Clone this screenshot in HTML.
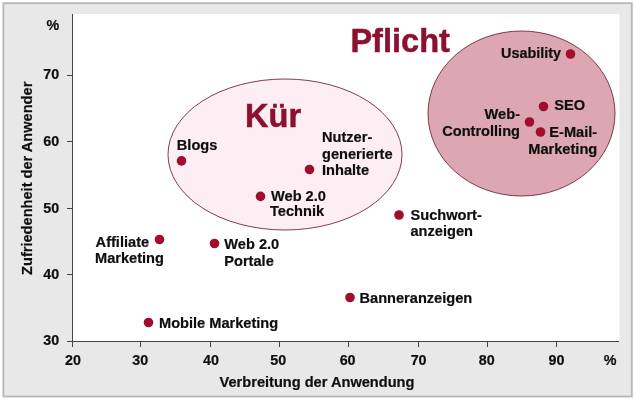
<!DOCTYPE html>
<html>
<head>
<meta charset="utf-8">
<title>Chart</title>
<style>
html,body{margin:0;padding:0;background:#fff;}
body{width:635px;height:400px;overflow:hidden;position:relative;font-family:"Liberation Sans",sans-serif;}
svg{position:absolute;left:0;top:0;display:block;will-change:transform;}
text{font-family:"Liberation Sans",sans-serif;font-weight:bold;fill:#0e0e0e;stroke:#0e0e0e;stroke-width:0.2px;}
.l{font-size:14.3px;}
.p{font-size:14.6px;}
.big{font-size:32.6px;fill:#8c1030;stroke:#8c1030;stroke-width:0.5px;}
</style>
</head>
<body>
<svg width="635" height="400" viewBox="0 0 635 400">
  <!-- outer frame -->
  <rect x="0" y="0" width="635" height="400" fill="#ffffff"/>
  <rect x="3.4" y="3.2" width="628.4" height="393.3" fill="#e8e8e8" stroke="#b6b6b6" stroke-width="1.8"/>
  <!-- plot area -->
  <rect x="72" y="14" width="547.5" height="327" fill="#ffffff"/>
  <!-- ellipses -->
  <ellipse cx="285" cy="154.5" rx="117" ry="75.5" fill="#fceef2" stroke="#6a1c30" stroke-width="0.85"/>
  <ellipse cx="521.5" cy="113.5" rx="93.5" ry="82.5" fill="#dca7b3" stroke="#6a1c30" stroke-width="0.85"/>
  <!-- axes -->
  <g stroke="#444" stroke-width="1" shape-rendering="crispEdges">
    <line x1="72.5" y1="14" x2="72.5" y2="347"/>
    <line x1="67" y1="341.5" x2="619" y2="341.5"/>
    <line x1="67" y1="75.5" x2="72" y2="75.5"/>
    <line x1="67" y1="141.5" x2="72" y2="141.5"/>
    <line x1="67" y1="208.5" x2="72" y2="208.5"/>
    <line x1="67" y1="274.5" x2="72" y2="274.5"/>
    <line x1="140.5" y1="341" x2="140.5" y2="347"/>
    <line x1="210.5" y1="341" x2="210.5" y2="347"/>
    <line x1="279.5" y1="341" x2="279.5" y2="347"/>
    <line x1="348.5" y1="341" x2="348.5" y2="347"/>
    <line x1="418.5" y1="341" x2="418.5" y2="347"/>
    <line x1="487.5" y1="341" x2="487.5" y2="347"/>
    <line x1="556.5" y1="341" x2="556.5" y2="347"/>
  </g>
  <!-- y tick labels -->
  <g class="l" text-anchor="end">
    <text x="59.3" y="29.6">%</text>
    <text x="59.2" y="79">70</text>
    <text x="59.2" y="145.5">60</text>
    <text x="59.2" y="212.5">50</text>
    <text x="59.2" y="278.5">40</text>
    <text x="59.2" y="345">30</text>
  </g>
  <!-- x tick labels -->
  <g class="l" text-anchor="middle">
    <text x="73" y="364.8">20</text>
    <text x="140.3" y="364.8">30</text>
    <text x="211" y="364.8">40</text>
    <text x="278.3" y="364.8">50</text>
    <text x="347.6" y="364.8">60</text>
    <text x="418.6" y="364.8">70</text>
    <text x="486.8" y="364.8">80</text>
    <text x="556.5" y="364.8">90</text>
    <text x="610" y="364.8">%</text>
    <text x="317" y="386.8" style="font-size:14.6px">Verbreitung der Anwendung</text>
  </g>
  <text class="p" text-anchor="middle" transform="translate(32.2,178.3) rotate(-90)">Zufriedenheit der Anwender</text>
  <!-- big labels -->
  <text class="big" x="245" y="127.3">Kür</text>
  <text class="big" x="350.4" y="51.5">Pflicht</text>
  <!-- dots -->
  <g fill="#a10d2c">
    <circle cx="570.5" cy="54" r="4.8"/>
    <circle cx="543.5" cy="106.5" r="4.8"/>
    <circle cx="529.5" cy="122" r="4.8"/>
    <circle cx="540.5" cy="132" r="4.8"/>
    <circle cx="181.5" cy="160.9" r="4.8"/>
    <circle cx="309.5" cy="169.5" r="4.8"/>
    <circle cx="260.5" cy="196.4" r="4.8"/>
    <circle cx="399" cy="215" r="4.8"/>
    <circle cx="159.5" cy="239.5" r="4.8"/>
    <circle cx="214.5" cy="243.5" r="4.8"/>
    <circle cx="350" cy="297.5" r="4.8"/>
    <circle cx="148.5" cy="322.5" r="4.8"/>
  </g>
  <!-- point labels -->
  <g class="p">
    <text x="561" y="57.9" text-anchor="end" style="font-size:14.4px">Usability</text>
    <text x="554.3" y="109.9">SEO</text>
    <text x="520" y="118.9" text-anchor="end">Web-</text>
    <text x="520" y="135.7" text-anchor="end">Controlling</text>
    <text x="549.3" y="137">E-Mail-</text>
    <text x="528.3" y="154">Marketing</text>
    <text x="176.8" y="149.7">Blogs</text>
    <text x="322" y="142.3">Nutzer-</text>
    <text x="322" y="158.6">generierte</text>
    <text x="322" y="175">Inhalte</text>
    <text x="271" y="200.6">Web 2.0</text>
    <text x="270" y="216.4">Technik</text>
    <text x="410.5" y="220">Suchwort-</text>
    <text x="410.5" y="236">anzeigen</text>
    <text x="95.6" y="246.5">Affiliate</text>
    <text x="95" y="263.2">Marketing</text>
    <text x="224.3" y="249">Web 2.0</text>
    <text x="224.3" y="265.8">Portale</text>
    <text x="359.5" y="303">Banneranzeigen</text>
    <text x="159" y="328">Mobile Marketing</text>
  </g>
</svg>
</body>
</html>
